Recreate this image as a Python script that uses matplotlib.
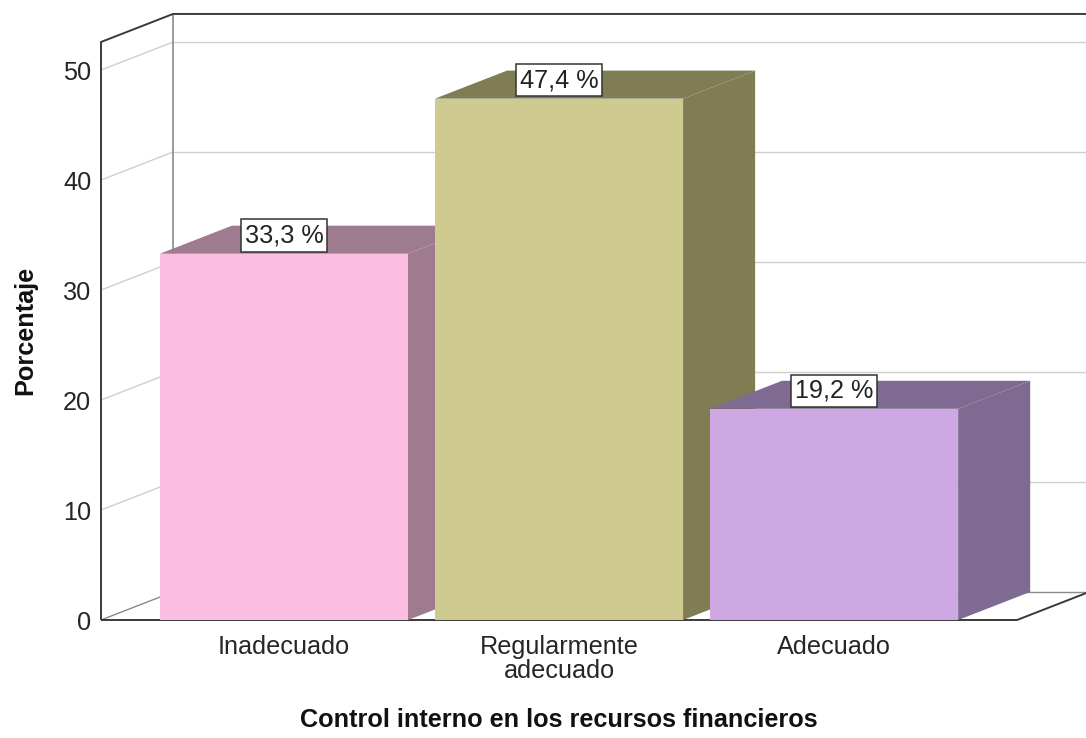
import matplotlib
matplotlib.use("Agg")
import matplotlib.pyplot as plt
from matplotlib.patches import Polygon

plt.rcParams['font.family'] = ['Liberation Sans', 'DejaVu Sans']

# datos
categorias = ["Inadecuado", "Regularmente\nadecuado", "Adecuado"]
porcentajes = [33.3, 47.4, 19.2]
colores_frente = ["#FBBEE1", "#CFCA8F", "#CEA8E2"]
colores_sombra = ["#9F7B8F", "#807D55", "#7F6A92"]
yticks = [0, 10, 20, 30, 40, 50]

# geometria del cubo (unidades de datos)
XMIN, XMAX = -0.665, 2.665
YMAX = 52.55
DX, DY = 0.262, 2.55      # profundidad
ANCHO = 0.902
GRIS_OSC = "#3a3a3a"
GRIS_MED = "#8a8a8a"
GRIS_CLARO = "#cfcfcf"
FS = 18.2

fig = plt.figure(figsize=(10.86, 7.38), dpi=100)
ax = fig.add_axes([101/1086, 118/738, 916/1086, 578/738])
ax.set_xlim(XMIN, XMAX)
ax.set_ylim(0, YMAX)
for s in ax.spines.values():
    s.set_visible(False)

def linea(xs, ys, color, lw=1.0, z=1):
    ax.plot(xs, ys, color=color, lw=lw, clip_on=False, zorder=z, solid_capstyle='butt')

# lineas de cuadricula: pared izquierda y pared del fondo
for t in yticks:
    c = GRIS_MED if t == 0 else GRIS_CLARO
    linea([XMIN, XMIN + DX], [t, t + DY], c, 1.0)
    linea([XMIN + DX, XMAX + DX + 0.5], [t + DY, t + DY], c, 1.0)

# marco
linea([XMIN + DX, XMIN + DX], [DY, YMAX + DY], GRIS_MED, 1.2)
linea([XMIN, XMIN, XMIN + DX, XMAX + DX + 0.5], [0, YMAX, YMAX + DY, YMAX + DY], GRIS_OSC, 1.4, 2)
linea([XMIN, XMAX, XMAX + DX], [0, 0, DY], GRIS_OSC, 1.4, 2)

# barras 3D
for i, (v, cf, cs) in enumerate(zip(porcentajes, colores_frente, colores_sombra)):
    x0, x1 = i - ANCHO / 2, i + ANCHO / 2
    z = 3 + i
    lado = [(x1, 0), (x1 + DX, DY), (x1 + DX, v + DY), (x1, v)]
    tapa = [(x0, v), (x1, v), (x1 + DX, v + DY), (x0 + DX, v + DY)]
    frente = [(x0, 0), (x1, 0), (x1, v), (x0, v)]
    for pts, col in [(lado, cs), (tapa, cs), (frente, cf)]:
        ax.add_patch(Polygon(pts, closed=True, facecolor=col, edgecolor='none',
                             clip_on=False, zorder=z))
    ax.annotate(f"{v:.1f} %".replace('.', ','), (i, v), xytext=(0, 4.5),
                textcoords='offset points', ha='center', va='bottom',
                fontsize=FS, color='#222222', zorder=10,
                bbox=dict(boxstyle='square,pad=0.16', fc='white', ec='#333333', lw=1.1))

ax.set_yticks(yticks)
ax.set_yticklabels([str(t) for t in yticks])
ax.set_xticks(range(len(categorias)))
ax.set_xticklabels(categorias, linespacing=0.98)
ax.tick_params(axis='y', length=0, pad=7, labelsize=FS, labelcolor='#262626')
ax.tick_params(axis='x', length=0, pad=11, labelsize=FS, labelcolor='#262626')

fig.text(559/1086, 1 - 720/738, "Control interno en los recursos financieros",
         ha='center', va='center', fontsize=FS, fontweight='bold', color='#111111')
fig.text(25/1086, 1 - 330/738, "Porcentaje", ha='center', va='center',
         rotation=90, fontsize=FS, fontweight='bold', color='#111111')

fig.savefig("out.png", dpi=100)
